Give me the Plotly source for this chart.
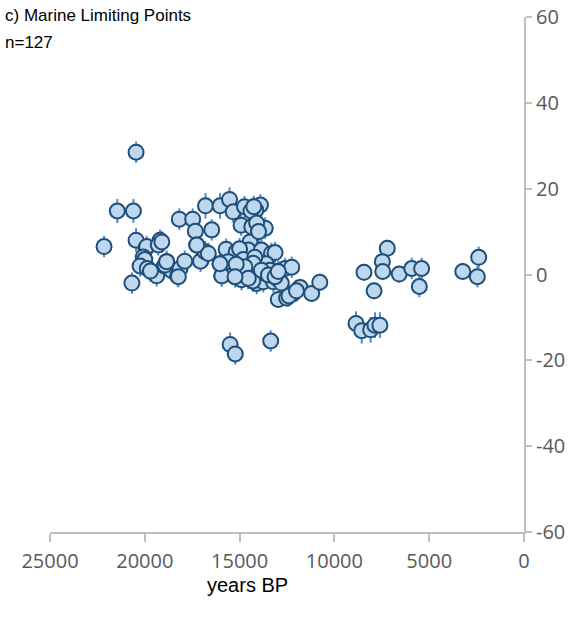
import plotly.graph_objects as go

# Marine limiting points: age (years BP) and relative sea level (m)
years = [
    22150, 21450, 20600, 20460, 20460, 20680, 19940, 19900, 20080, 20000,
    20250, 19870, 19550, 19370, 19200, 19290, 18970, 18850, 18580, 18270,
    18140, 17895, 18180, 17475, 17335, 17260, 17060, 16820, 16470, 16800,
    16030, 15530, 15340, 14740, 14250, 13900, 14150, 14920, 14360, 14000,
    13650, 14450, 15710, 15180, 14540, 13850, 13320, 13130, 16030, 15180,
    14280, 14720, 13850, 15940, 15240, 14540, 14100, 13750, 13480, 13130,
    12960, 12600, 12250, 13220, 12960, 12520, 12170, 11810, 11200, 10770,
    15500, 15230, 13360, 7210, 7470, 8440, 7450, 6580, 5920, 5400,
    5520, 7910, 3230, 2390, 2460, 8860, 8560, 8090, 7860, 7600,
    16650, 15000, 14800, 14600, 14000, 13600, 13400, 14300, 14900, 15400,
    15600, 14200, 13000, 12800, 14400, 14100, 12400, 12000, 19100, 18930,
    18230, 19700, 14280, 14720, 15180, 13850, 14540, 13480, 13130, 12960,
    14000, 14250, 15940, 15240, 16030, 17260, 18850,
]
rsl = [
    6.5, 14.8, 14.8, 28.5, 8.0, -2.0, 6.1, 6.5, 4.1, 3.5,
    2.0, 1.4, 0.4, -0.3, 8.0, 6.9, 2.0, 3.0, 0.9, -0.3,
    1.4, 3.1, 12.9, 12.9, 10.1, 6.9, 3.1, 5.3, 10.4, 16.0,
    16.0, 17.5, 14.6, 15.8, 15.8, 16.2, 15.0, 11.5, 11.1, 10.0,
    10.8, 7.6, 5.9, 5.3, 5.7, 5.7, 4.9, 5.1, 2.5, 2.4,
    2.6, 1.8, 1.0, -0.3, -0.5, -0.9, -2.1, -1.7, -0.1, -0.5,
    0.7, 1.4, 1.7, -1.7, -5.8, -5.5, -4.4, -3.0, -4.4, -1.8,
    -16.3, -18.5, -15.5, 6.1, 3.0, 0.5, 0.7, 0.1, 1.4, 1.4,
    -2.8, -3.8, 0.7, 4.0, -0.5, -11.4, -13.1, -12.9, -11.8, -11.8,
    4.9, 6.0, 3.5, 0.5, 0.3, 2.5, 1.0, -1.5, -1.2, 0.2,
    3.0, 4.0, -1.0, -2.0, 14.8, 12.0, -5.0, -3.8, 7.6, 2.2,
    -0.5, 0.8, 2.6, 1.8, 2.4, 1.0, -0.9, -0.1, -0.5, 0.7,
    10.0, 15.8, -0.3, -0.5, 2.5, 6.9, 3.0,
]
rsl_err = [
    2.5, 2.8, 2.8, 2.5, 2.8, 2.5, 2.5, 2.5, 2.5, 2.5,
    2.5, 2.5, 2.5, 2.5, 2.5, 2.5, 2.5, 2.5, 2.5, 2.5,
    2.5, 2.5, 2.5, 2.5, 2.5, 2.5, 2.5, 2.5, 2.5, 3.0,
    3.0, 2.8, 2.5, 2.5, 2.5, 2.5, 2.5, 2.5, 2.5, 2.5,
    2.5, 2.5, 2.5, 2.5, 2.5, 2.5, 2.5, 2.5, 2.5, 2.5,
    2.5, 2.5, 2.5, 2.5, 2.5, 2.5, 2.5, 2.5, 2.5, 2.5,
    2.5, 2.5, 2.5, 2.5, 2.0, 2.0, 2.0, 2.0, 2.0, 2.0,
    2.8, 2.5, 2.5, 2.0, 2.5, 2.0, 2.0, 2.0, 2.5, 2.5,
    2.5, 2.0, 2.0, 2.5, 2.5, 2.8, 3.0, 3.0, 3.0, 3.0,
    2.5, 2.5, 2.5, 2.5, 2.5, 2.5, 2.5, 2.5, 2.5, 2.5,
    2.5, 2.5, 2.5, 2.5, 2.5, 2.5, 2.5, 2.5, 2.5, 2.5,
    2.5, 2.5, 2.5, 2.5, 2.5, 2.5, 2.5, 2.5, 2.5, 2.5,
    2.5, 2.5, 2.5, 2.5, 2.5, 2.5, 2.5,
]

x_ticks = [25000, 20000, 15000, 10000, 5000, 0]
y_ticks = [-60, -40, -20, 0, 20, 40, 60]

fig = go.Figure()
fig.add_trace(go.Scatter(
    x=years, y=rsl, mode="markers",
    error_y=dict(type="data", array=rsl_err, visible=True,
                 color="#4a8ed0", thickness=2, width=0),
    marker=dict(size=15, color="#bdd7ee",
                line=dict(color="#1f4e79", width=2)),
    showlegend=False, cliponaxis=False,
))

axis_font = dict(family="Open Sans, Lato, sans-serif", size=20, color="#595959")
title_font = dict(family="Liberation Sans, Arial", size=17, color="black")
fig.update_layout(
    width=580, height=619,
    margin=dict(l=50, r=56, t=17, b=87, autoexpand=False),
    plot_bgcolor="white", paper_bgcolor="white",
    xaxis=dict(range=[25000, 0], tickvals=x_ticks,
               ticktext=[str(v) for v in x_ticks],
               showgrid=False, zeroline=False, automargin=False,
               showline=True, linecolor="#bfbfbf", linewidth=2,
               ticks="outside", ticklen=8, tickwidth=2, tickcolor="#bfbfbf",
               tickfont=axis_font, ticklabelstandoff=2),
    yaxis=dict(range=[-60, 60], tickvals=y_ticks,
               ticktext=[str(v) for v in y_ticks], side="right",
               showgrid=False, zeroline=False, automargin=False,
               showline=True, linecolor="#bfbfbf", linewidth=2,
               ticks="outside", ticklen=6, tickwidth=2, tickcolor="#bfbfbf",
               tickfont=axis_font),
    annotations=[
        dict(text="c) Marine Limiting Points", xref="paper", yref="paper",
             x=(3 - 50) / 474, y=(532 - 16) / 515, xanchor="left", yanchor="middle",
             showarrow=False, font=title_font),
        dict(text="n=127", xref="paper", yref="paper",
             x=(3 - 50) / 474, y=(532 - 43) / 515, xanchor="left", yanchor="middle",
             showarrow=False, font=title_font),
        dict(text="years BP", xref="paper", yref="paper",
             x=(247 - 50) / 474, y=(532 - 585) / 515, xanchor="center", yanchor="middle",
             showarrow=False, font=dict(family="Liberation Sans, Arial", size=20, color="black")),
    ],
)

fig.write_html("out.html",
               config={"displayModeBar": False},
               post_script="document.body.style.margin='0';document.body.style.overflow='hidden';")
